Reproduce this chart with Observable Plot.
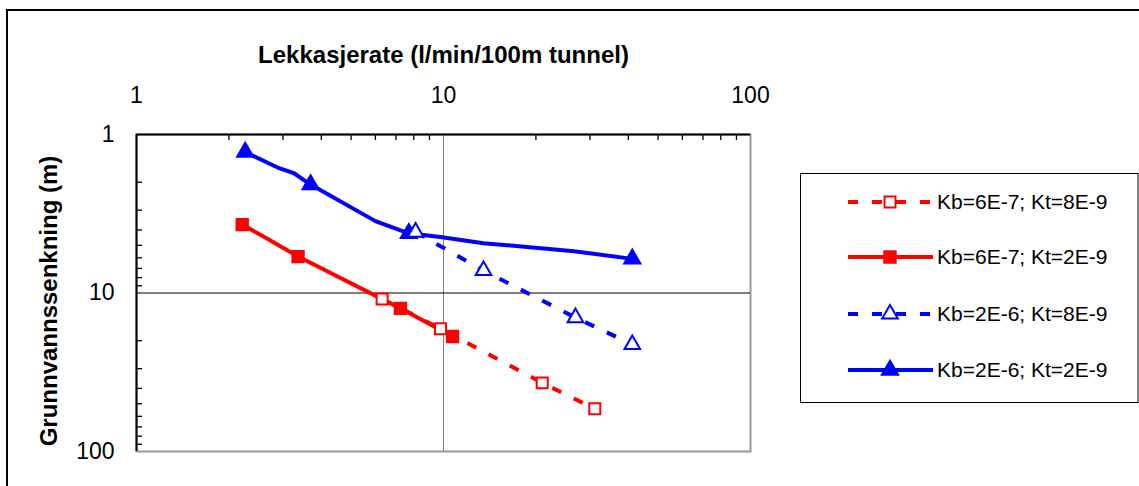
<!DOCTYPE html>
<html><head><meta charset="utf-8">
<script src="https://cdn.jsdelivr.net/npm/d3@7"></script>
<script src="https://cdn.jsdelivr.net/npm/@observablehq/plot@0.6"></script>
<style>
html,body{margin:0;padding:0;background:#fff;}
#chart{position:relative;width:1139px;height:486px;overflow:hidden;background:#fff;}
</style></head><body><div id="chart"></div>
<script>
const FONT = "'Liberation Sans', Arial, Helvetica, sans-serif";

// ---- data ----
const xTickValues = [1, 10, 100];
const yTickValues = [1, 10, 100];
const xMinorTicks = [2, 3, 4, 5, 6, 7, 8, 9, 20, 30, 40, 50, 60, 70, 80, 90];
const yMinorTicks = [2, 3, 4, 5, 6, 7, 8, 9, 20, 30, 40, 50, 60, 70, 80, 90];
const xTitle = "Lekkasjerate (l/min/100m tunnel)";
const yTitle = "Grunnvannssenkning (m)";

const seriesNames = ["Kb=6E-7; Kt=8E-9", "Kb=6E-7; Kt=2E-9", "Kb=2E-6; Kt=8E-9", "Kb=2E-6; Kt=2E-9"];

// Kb=6E-7; Kt=8E-9
const s1x = [6.31, 9.78, 20.97, 31.1];
const s1y = [10.9, 16.8, 36.9, 53.8];
const s1marker = [1, 1, 1, 1];
// Kb=6E-7; Kt=2E-9
const s2x = [2.21, 2.67, 3.36, 7.24, 10.7];
const s2y = [3.70, 4.55, 5.89, 12.5, 18.8];
const s2marker = [1, 0, 1, 1, 1];
// Kb=2E-6; Kt=8E-9
const s3x = [8.11, 13.5, 26.9, 41.2];
const s3y = [4.13, 7.21, 14.3, 21.1];
const s3marker = [1, 1, 1, 1];
// Kb=2E-6; Kt=2E-9
const s4x = [2.26, 2.87, 3.25, 3.69, 6.00, 7.71, 9.90, 13.5, 26.6, 41.2];
const s4y = [1.29, 1.61, 1.75, 2.07, 3.52, 4.20, 4.45, 4.85, 5.45, 6.09];
const s4marker = [1, 0, 0, 1, 0, 1, 0, 0, 0, 1];

// ---- styles ----
const styles = [
  {color: "#ff0000", dash: "10,14", symbol: "square", fill: "#ffffff", r: 6.2},
  {color: "#ff0000", dash: null, symbol: "square", fill: "#ff0000", r: 6.4},
  {color: "#0000ff", dash: "10,14", symbol: "triangle", fill: "#ffffff", r: 5.8},
  {color: "#0000ff", dash: null, symbol: "triangle", fill: "#0000ff", r: 6}
];

const xs = [s1x, s2x, s3x, s4x], ys = [s1y, s2y, s3y, s4y], ms = [s1marker, s2marker, s3marker, s4marker];
const series = seriesNames.map((name, i) => xs[i].map((x, j) => ({name, x, y: ys[i][j], marker: !!ms[i][j]})));

const W = 1139, H = 486;
const mL = 136, mR = 389, mT = 134, mB = 35;
const plotW = W - mL - mR, plotH = H - mT - mB;

const lineMarks = series.map((d, i) => Plot.line(d, {
  x: "x", y: "y", stroke: styles[i].color, strokeWidth: 4,
  strokeDasharray: styles[i].dash, strokeLinejoin: "round", strokeLinecap: "butt"
}));
const dotOrder = [1, 0, 3, 2];
const dotMarks = dotOrder.map(i => Plot.dot(series[i].filter(d => d.marker), {
  x: "x", y: "y", symbol: styles[i].symbol, r: styles[i].r,
  fill: styles[i].fill, stroke: styles[i].color, strokeWidth: 2
}));

const svg = Plot.plot({
  width: W, height: H,
  marginLeft: mL, marginRight: mR, marginTop: mT, marginBottom: mB,
  style: {fontFamily: FONT, background: "transparent", color: "#000"},
  x: {type: "log", domain: [1, 100]},
  y: {type: "log", domain: [1, 100], reverse: true},
  marks: [
    Plot.frame({stroke: "#9a9a9a", strokeWidth: 2}),
    Plot.ruleX([10], {stroke: "#808080", strokeWidth: 1}),
    Plot.ruleY([10], {stroke: "#000", strokeWidth: 1}),
    Plot.ruleX([1], {stroke: "#000", strokeWidth: 2}),
    Plot.ruleY([1], {stroke: "#000", strokeWidth: 2}),
    Plot.tickX(xMinorTicks, {x: d => d, insetBottom: plotH - 6, stroke: "#000", strokeWidth: 1.3}),
    Plot.tickY(yMinorTicks, {y: d => d, insetRight: plotW - 6, stroke: "#000", strokeWidth: 1.3}),
    ...lineMarks,
    ...dotMarks,
    Plot.axisX({anchor: "top", ticks: xTickValues, tickSize: 0, tickPadding: 32, tickFormat: d => String(d), fontSize: 23, label: null}),
    Plot.axisY({anchor: "left", ticks: yTickValues, tickSize: 0, tickPadding: 22, tickFormat: d => String(d), fontSize: 23, label: null}),
    Plot.text([xTitle], {text: d => d, frameAnchor: "top", textAnchor: "middle", dy: -89, fontSize: 24, fontWeight: "bold"}),
    Plot.text([yTitle], {text: d => d, frameAnchor: "left", textAnchor: "middle", dx: -87, dy: 8, rotate: -90, fontSize: 24, fontWeight: "bold"})
  ]
});

document.getElementById("chart").appendChild(svg);

// outer border (chart area)
const s = d3.select(svg);
s.insert("rect", ":first-child")
  .attr("x", 7).attr("y", 10).attr("width", W + 20).attr("height", H + 20)
  .attr("fill", "#fff").attr("stroke", "#000").attr("stroke-width", 2);

// legend
const lg = s.append("g").attr("font-family", FONT).attr("text-anchor", "start");
lg.append("rect").attr("x", 800.5).attr("y", 173.5).attr("width", 337.5).attr("height", 229)
  .attr("fill", "#fff").attr("stroke", "#000").attr("stroke-width", 1);
const legendY = [202, 257, 314, 370];
seriesNames.forEach((name, i) => {
  const st = styles[i], cy = legendY[i];
  lg.append("line").attr("x1", 848).attr("x2", 933).attr("y1", cy).attr("y2", cy)
    .attr("stroke", st.color).attr("stroke-width", 4).attr("stroke-dasharray", st.dash);
  const sym = d3.symbol(st.symbol === "square" ? d3.symbolSquare : d3.symbolTriangle, Math.PI * st.r * st.r);
  lg.append("path").attr("d", sym()).attr("transform", `translate(890,${cy})`)
    .attr("fill", st.fill).attr("stroke", st.color).attr("stroke-width", 2);
  lg.append("text").attr("x", 937).attr("y", cy).attr("dy", "0.35em").attr("text-anchor", "start")
    .attr("font-size", 21).attr("fill", "#000").text(name);
});
</script></body></html>
